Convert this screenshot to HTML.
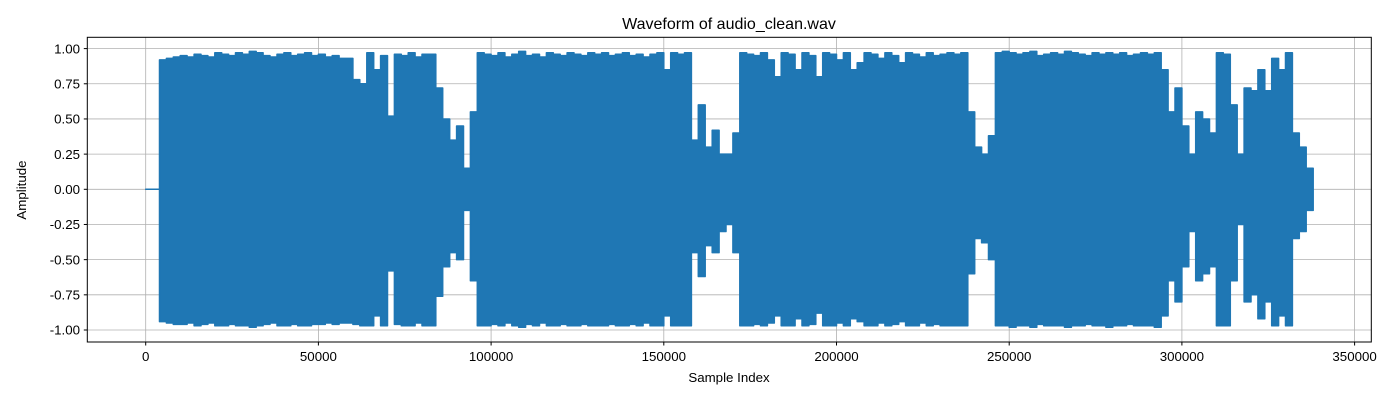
<!DOCTYPE html>
<html><head><meta charset="utf-8"><style>
body{margin:0;background:#fff;}
svg{display:block;font-family:"Liberation Sans","DejaVu Sans",sans-serif;}
</style></head><body>
<svg id="chart" width="1400" height="400" viewBox="0 0 1400 400" xmlns="http://www.w3.org/2000/svg">
<rect width="1400" height="400" fill="#fff"/>
<text x="729" y="29" font-size="16" text-anchor="middle" fill="#000">Waveform of audio_clean.wav</text>
<g id="grid"></g>
<g id="wave"></g>
<rect x="87.3" y="37.3" width="1284" height="304.7" fill="none" stroke="#000" stroke-width="1"/>
<g id="ticks"></g>
<text x="729" y="382" font-size="13.3" text-anchor="middle">Sample Index</text>
<text transform="translate(26,190) rotate(-90)" font-size="13.3" text-anchor="middle">Amplitude</text>
</svg>
<script>
const binSize = 2000;
const upperEnv = [0,0,0.92,0.93,0.94,0.95,0.94,0.96,0.95,0.94,0.97,0.96,0.95,0.97,0.96,0.98,0.97,0.95,0.94,0.96,0.97,0.95,0.96,0.97,0.95,0.96,0.94,0.95,0.93,
0.93,0.78,0.75,0.97,0.85,0.95,0.52,0.96,0.95,0.97,0.94,0.96,0.96,0.72,0.5,0.35,0.45,0.15,0.55,0.97,
0.96,0.95,0.97,0.94,0.96,0.98,0.95,0.96,0.94,0.97,0.96,0.95,0.97,0.96,0.95,0.97,0.96,0.97,0.95,0.96,0.97,0.95,0.96,0.94,0.96,0.97,
0.85,0.97,0.96,0.97,0.35,0.6,0.3,0.42,0.25,0.25,0.4,0.97,
0.96,0.95,0.97,0.92,0.8,0.97,0.96,0.85,0.97,0.95,0.8,0.97,0.96,0.92,0.97,0.85,0.9,0.97,0.96,0.93,0.97,0.95,0.9,0.97,0.96,0.94,0.97,0.95,0.96,0.97,
0.96,0.97,0.55,0.3,0.25,0.38,0.97,
0.98,0.97,0.96,0.97,0.98,0.95,0.96,0.97,0.96,0.98,0.97,0.96,0.95,0.97,0.96,0.97,0.96,0.97,0.95,0.96,0.97,0.96,0.97,
0.85,0.55,0.72,0.45,0.25,0.55,0.5,0.4,0.97,0.96,0.6,0.25,0.72,0.7,0.85,0.7,0.93,0.85,0.97,0.4,0.3,0.15];
const lowerEnv = [0,0,0.94,0.95,0.96,0.96,0.95,0.97,0.96,0.95,0.97,0.97,0.96,0.97,0.97,0.98,0.97,0.96,0.95,0.97,0.97,0.96,0.97,0.97,0.96,0.96,0.95,0.96,0.95,
0.95,0.96,0.97,0.97,0.9,0.97,0.58,0.96,0.97,0.97,0.95,0.97,0.97,0.76,0.55,0.45,0.5,0.15,0.65,0.97,
0.97,0.96,0.97,0.95,0.97,0.98,0.96,0.97,0.95,0.97,0.97,0.96,0.97,0.97,0.96,0.97,0.97,0.97,0.96,0.97,0.97,0.96,0.97,0.95,0.97,0.97,
0.9,0.97,0.97,0.97,0.45,0.62,0.4,0.45,0.3,0.25,0.45,0.97,
0.97,0.96,0.97,0.95,0.9,0.97,0.97,0.92,0.97,0.96,0.88,0.97,0.97,0.95,0.97,0.92,0.94,0.97,0.97,0.95,0.97,0.96,0.94,0.97,0.97,0.95,0.97,0.96,0.97,0.97,
0.97,0.97,0.6,0.35,0.38,0.5,0.97,
0.97,0.98,0.97,0.97,0.98,0.96,0.97,0.97,0.97,0.98,0.97,0.97,0.96,0.97,0.97,0.98,0.97,0.97,0.96,0.97,0.97,0.97,0.98,
0.9,0.65,0.8,0.55,0.3,0.65,0.6,0.55,0.97,0.97,0.65,0.25,0.8,0.75,0.92,0.8,0.97,0.9,0.97,0.35,0.3,0.15];
const xTicks = [0,50000,100000,150000,200000,250000,300000,350000];
const yTicks = [-1.00,-0.75,-0.50,-0.25,0.00,0.25,0.50,0.75,1.00];
const endSample = 338000;

const NS = "http://www.w3.org/2000/svg";
function X(s){ return 145.7 + s * (172.7/50000); }
function Y(v){ return 189.3 - v * 140.7; }

const grid = document.getElementById('grid');
const ticks = document.getElementById('ticks');
xTicks.forEach(t => {
  const l = document.createElementNS(NS,'line');
  
  
  l.setAttribute('x1',X(t)); l.setAttribute('x2',X(t)); l.setAttribute('y1',37.3); l.setAttribute('y2',342);
  l.setAttribute('stroke','#b0b0b0'); l.setAttribute('stroke-width','0.8');
  grid.appendChild(l);
  const tk = document.createElementNS(NS,'line');
  
  
  tk.setAttribute('x1',X(t)); tk.setAttribute('x2',X(t)); tk.setAttribute('y1',342); tk.setAttribute('y2',345.5);
  tk.setAttribute('stroke','#000');
  ticks.appendChild(tk);
  const tx = document.createElementNS(NS,'text');
  
  
  tx.setAttribute('x',X(t)); tx.setAttribute('y',361); tx.setAttribute('font-size','13.3'); tx.setAttribute('text-anchor','middle');
  tx.textContent = String(t);
  ticks.appendChild(tx);
});
yTicks.forEach(t => {
  const l = document.createElementNS(NS,'line');
  
  
  l.setAttribute('x1',87.3); l.setAttribute('x2',1371.3); l.setAttribute('y1',Y(t)); l.setAttribute('y2',Y(t));
  l.setAttribute('stroke','#b0b0b0'); l.setAttribute('stroke-width','0.8');
  grid.appendChild(l);
  const tk = document.createElementNS(NS,'line');
  
  
  tk.setAttribute('x1',83.8); tk.setAttribute('x2',87.3); tk.setAttribute('y1',Y(t)); tk.setAttribute('y2',Y(t));
  tk.setAttribute('stroke','#000');
  ticks.appendChild(tk);
  const tx = document.createElementNS(NS,'text');
  
  
  tx.setAttribute('x',80); tx.setAttribute('y',Y(t)+4.7); tx.setAttribute('font-size','13.3'); tx.setAttribute('text-anchor','end');
  tx.textContent = t.toFixed(2);
  ticks.appendChild(tx);
});

// waveform envelope polygon
const topPts = [], botPts = [];
for (let i = 0; i < upperEnv.length; i++) {
  const s0 = i * binSize, s1 = Math.min((i + 1) * binSize, endSample);
  topPts.push(X(s0).toFixed(1)+','+Y(upperEnv[i]).toFixed(1));
  topPts.push(X(s1).toFixed(1)+','+Y(upperEnv[i]).toFixed(1));
  botPts.push(X(s0).toFixed(1)+','+Y(-lowerEnv[i]).toFixed(1));
  botPts.push(X(s1).toFixed(1)+','+Y(-lowerEnv[i]).toFixed(1));
}
const poly = document.createElementNS(NS,'polygon');


poly.setAttribute('points', topPts.concat(botPts.reverse()).join(' '));
poly.setAttribute('fill','#1f77b4');
poly.setAttribute('stroke','#1f77b4');
poly.setAttribute('stroke-width','1.5');
poly.setAttribute('stroke-linejoin','round');
document.getElementById('wave').appendChild(poly);
</script>
</body></html>
